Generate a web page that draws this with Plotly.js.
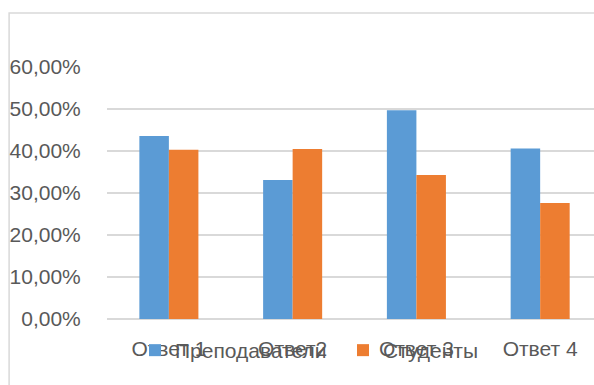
<!DOCTYPE html>
<html>
<head>
<meta charset="utf-8">
<script src="https://cdn.plot.ly/plotly-3.0.1.min.js"></script>
<style>html,body{margin:0;padding:0;background:#fff;}#chart{width:594px;height:385px;}</style>
</head>
<body>
<div id="chart"></div>
<script>
const categories = ["Ответ 1", "Ответ2", "Ответ 3", "Ответ 4"];
const teachers = [0.436, 0.331, 0.497, 0.406];
const students = [0.403, 0.405, 0.343, 0.276];
const seriesNames = ["Преподаватели", "Студенты"];
const yTickVals = [0, 0.1, 0.2, 0.3, 0.4, 0.5, 0.6];

const font = {family: "Liberation Sans, Arial, sans-serif", size: 21, color: "#595959"};

const traces = [
  {type: "bar", name: seriesNames[0], x: categories, y: teachers, marker: {color: "#5B9BD5"}},
  {type: "bar", name: seriesNames[1], x: categories, y: students, marker: {color: "#ED7D31"}}
];

const layout = {
  width: 594, height: 385,
  margin: {l: 107, r: 0, t: 67, b: 66, pad: 0},
  paper_bgcolor: "#fff", plot_bgcolor: "#fff",
  font: font,
  barmode: "group", bargap: 0.523, bargroupgap: 0,
  showlegend: true,
  legend: {orientation: "h", x: (135 - 107) / 487, xanchor: "left", y: -0.125, yanchor: "middle",
           bgcolor: "rgba(0,0,0,0)", font: font, itemwidth: 30, entrywidth: 163},
  xaxis: {type: "category", range: [-0.5, 3.435], showgrid: false, zeroline: false, showline: false,
          ticks: "outside", ticklen: 11, tickcolor: "rgba(0,0,0,0)", tickfont: font, fixedrange: true},
  yaxis: {range: [0, 0.6], tickvals: yTickVals, tickformat: ".2%", showgrid: true, gridcolor: "#d9d9d9", gridwidth: 1.5,
          zeroline: true, zerolinecolor: "#d9d9d9", zerolinewidth: 1.5, showline: false,
          ticks: "outside", ticklen: 21, tickcolor: "rgba(0,0,0,0)", tickfont: font, fixedrange: true},
  separators: ", ",
  shapes: [{type: "rect", xref: "paper", yref: "paper", x0: -0.201, x1: 1.2, y0: -1, y1: 1.214,
            line: {color: "#d9d9d9", width: 1.5}, fillcolor: "rgba(0,0,0,0)", layer: "below"}]
};

Plotly.newPlot("chart", traces, layout, {staticPlot: true, displayModeBar: false});
</script>
</body>
</html>
